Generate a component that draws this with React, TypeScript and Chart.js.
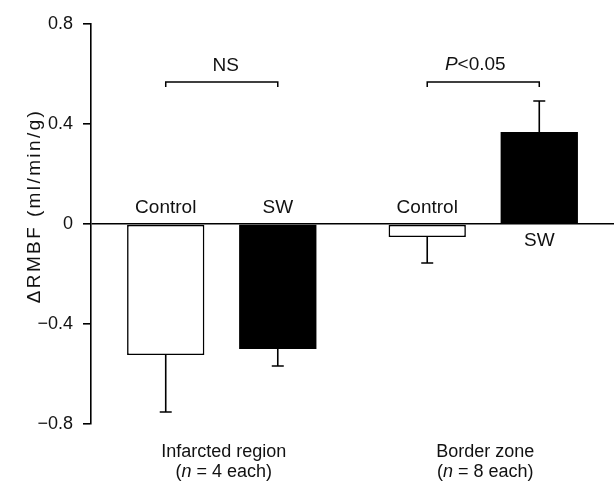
import React, { useEffect, useRef } from "react";
import { Chart, registerables } from "chart.js";

Chart.register(...registerables);

const categories = ["Infarcted region", "Border zone"];
const groupSizes = ["4", "8"];
const seriesNames = ["Control", "SW"];
const controlMeans = [-0.524, -0.052];
const controlErrors = [0.228, 0.104];
const swMeans = [-0.5, 0.368];
const swErrors = [0.068, 0.124];
const comparisonLabels = ["NS", "P<0.05"];
const yTickValues = [-0.8, -0.4, 0, 0.4, 0.8];
const yTitle = "ΔRMBF (ml/min/g)";

const FONT = "'Liberation Sans', Arial, Helvetica, sans-serif";

function drawMixed(ctx: CanvasRenderingContext2D, parts: { t: string; italic?: boolean }[], cx: number, y: number, size: number) {
  const widths = parts.map((p) => {
    ctx.font = `${p.italic ? "italic " : ""}${size}px ${FONT}`;
    return ctx.measureText(p.t).width;
  });
  const total = widths.reduce((a, b) => a + b, 0);
  let x = cx - total / 2;
  ctx.textAlign = "left";
  parts.forEach((p, i) => {
    ctx.font = `${p.italic ? "italic " : ""}${size}px ${FONT}`;
    ctx.fillText(p.t, x, y);
    x += widths[i];
  });
}

const annotPlugin = {
  id: "annot",
  afterDatasetsDraw(chart: any) {
    const ctx: CanvasRenderingContext2D = chart.ctx;
    const yS = chart.scales.y;
    const zeroY = yS.getPixelForValue(0);
    const means = [controlMeans, swMeans];
    const errs = [controlErrors, swErrors];
    ctx.save();
    ctx.strokeStyle = "#000";
    ctx.fillStyle = "#111";
    ctx.lineWidth = 1.6;
    // error bars and bar labels
    for (let d = 0; d < 2; d++) {
      const meta = chart.getDatasetMeta(d);
      meta.data.forEach((bar: any, j: number) => {
        const m = means[d][j];
        const e = errs[d][j];
        const tip = m < 0 ? m - e : m + e;
        const y0 = yS.getPixelForValue(m);
        const y1 = yS.getPixelForValue(tip);
        ctx.beginPath();
        ctx.moveTo(bar.x, y0);
        ctx.lineTo(bar.x, y1);
        ctx.moveTo(bar.x - 6, y1);
        ctx.lineTo(bar.x + 6, y1);
        ctx.stroke();
        ctx.font = `19px ${FONT}`;
        ctx.textAlign = "center";
        ctx.textBaseline = "alphabetic";
        if (m < 0) ctx.fillText(seriesNames[d], bar.x, zeroY - 11);
        else ctx.fillText(seriesNames[d], bar.x, zeroY + 22);
      });
    }
    // comparison brackets
    const m0 = chart.getDatasetMeta(0);
    const m1 = chart.getDatasetMeta(1);
    const bY = 82;
    for (let j = 0; j < categories.length; j++) {
      const xa = m0.data[j].x;
      const xb = m1.data[j].x;
      ctx.lineWidth = 1.5;
      ctx.beginPath();
      ctx.moveTo(xa, bY + 5);
      ctx.lineTo(xa, bY);
      ctx.lineTo(xb, bY);
      ctx.lineTo(xb, bY + 5);
      ctx.stroke();
      const lab = comparisonLabels[j];
      ctx.textBaseline = "alphabetic";
      if (lab.startsWith("P")) {
        drawMixed(ctx, [{ t: "P", italic: true }, { t: lab.slice(1) }], (xa + xb) / 2 - 8, 70, 19);
      } else {
        ctx.font = `19px ${FONT}`;
        ctx.textAlign = "center";
        ctx.fillText(lab, (xa + xb) / 2 + 4, 71);
      }
    }
    // category labels
    const xS = chart.scales.x;
    categories.forEach((c, j) => {
      const cx = xS.getPixelForValue(j) + 2;
      ctx.font = `18px ${FONT}`;
      ctx.textAlign = "center";
      ctx.fillText(c, cx, 457);
      drawMixed(ctx, [{ t: "(" }, { t: "n", italic: true }, { t: " = " + groupSizes[j] + " each)" }], cx, 477, 18);
    });
    // y title
    ctx.save();
    ctx.translate(35, 206);
    ctx.rotate(-Math.PI / 2);
    ctx.font = `19px ${FONT}`;
    (ctx as any).letterSpacing = "2.4px";
    ctx.textAlign = "center";
    ctx.textBaseline = "middle";
    ctx.fillText(yTitle, 0, 0);
    ctx.restore();
    ctx.restore();
  },
};

export default function App() {
  const ref = useRef<HTMLCanvasElement>(null);
  useEffect(() => {
    if (!ref.current) return;
    const chart = new Chart(ref.current, {
      type: "bar",
      data: {
        labels: categories,
        datasets: [
          {
            label: seriesNames[0],
            data: controlMeans,
            backgroundColor: "#ffffff",
            borderColor: "#000000",
            borderWidth: 1.6,
            borderSkipped: false,
          },
          {
            label: seriesNames[1],
            data: swMeans,
            backgroundColor: "#000000",
            borderColor: "#000000",
            borderWidth: 0,
          },
        ],
      },
      options: {
        animation: false,
        responsive: true,
        maintainAspectRatio: false,
        layout: { padding: { top: 24, bottom: 57, left: 0, right: 0 } },
        datasets: { bar: { categoryPercentage: 0.857, barPercentage: 0.69 } },
        plugins: { legend: { display: false }, tooltip: { enabled: false } },
        scales: {
          x: { type: "category", display: false, offset: true },
          y: {
            min: -0.8,
            max: 0.8,
            afterBuildTicks: (s: any) => {
              s.ticks = yTickValues.map((v) => ({ value: v }));
            },
            afterFit: (s: any) => {
              s.width = 91;
            },
            ticks: {
              font: { size: 18, family: FONT },
              color: "#111",
              padding: 10,
              callback: (v: any) => {
                const n = Number(v);
                if (Math.abs(n) < 1e-9) return "0";
                return (n < 0 ? "\u2212" : "") + Math.abs(n).toFixed(1);
              },
            },
            grid: {
              drawOnChartArea: true,
              color: (c: any) => (c.tick && Math.abs(c.tick.value) < 1e-9 ? "#000" : "rgba(0,0,0,0)"),
              lineWidth: 1.6,
              tickLength: 8,
              tickColor: "#000",
              tickWidth: 1.6,
            },
            border: { display: true, color: "#000", width: 1.6 },
          },
        },
      },
      plugins: [annotPlugin],
    });
    return () => chart.destroy();
  }, []);
  return (
    <div style={{ position: "fixed", left: 0, top: 0, width: 614, height: 481, background: "#fff" }}>
      <canvas ref={ref} />
    </div>
  );
}
